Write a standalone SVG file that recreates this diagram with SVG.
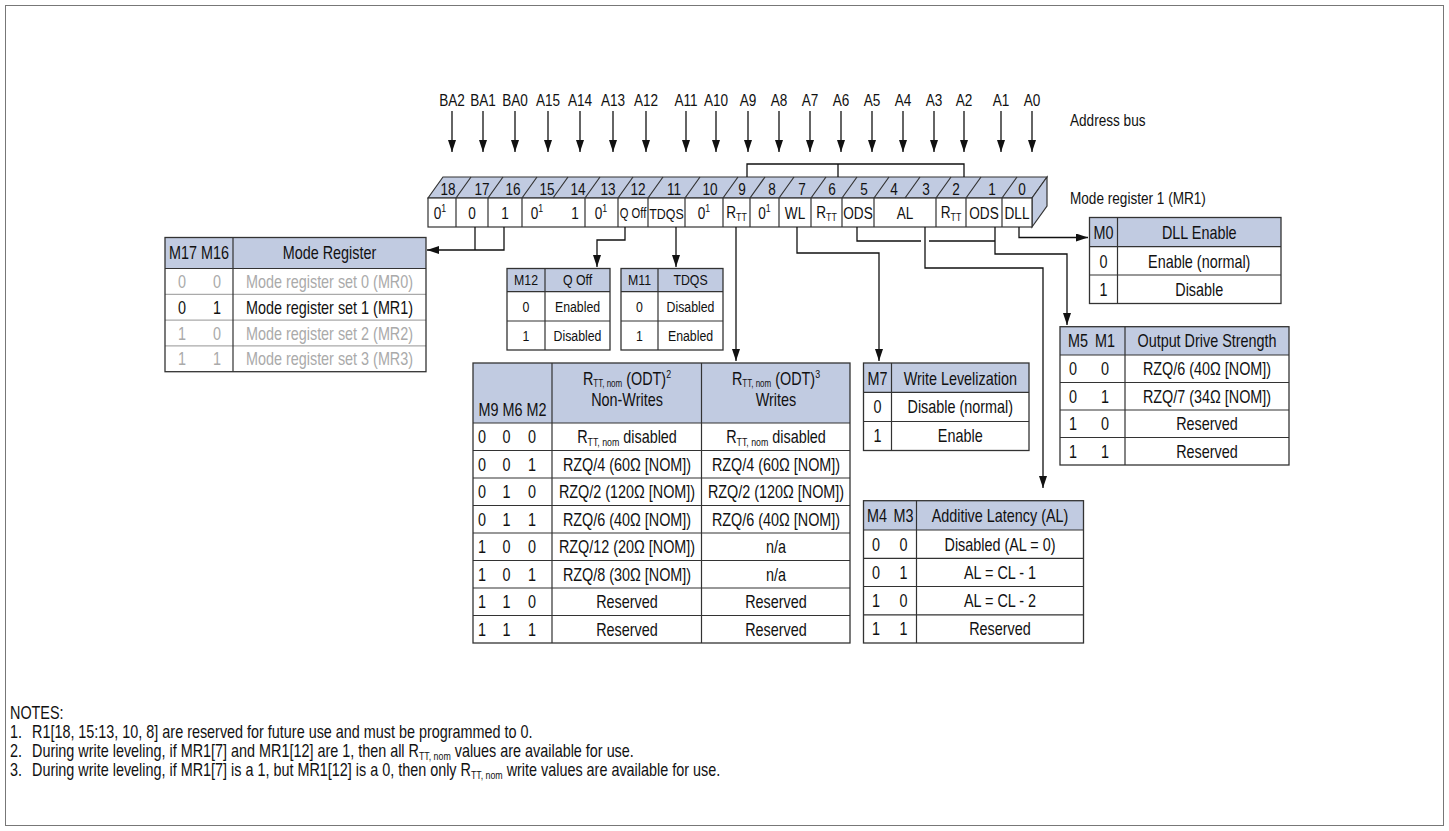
<svg xmlns="http://www.w3.org/2000/svg" width="1449" height="831" viewBox="0 0 1449 831">
<defs>
<style>
text{font-family:"Liberation Sans",Arial,Helvetica,sans-serif;fill:#111}
.a{font-size:17px}
.t{font-size:18px}
.s{font-size:14.5px}
.m{text-anchor:middle}
.g{fill:#aaa}
.sb{font-size:11px}
.sx{font-size:10px}
.hd{fill:#c1cbe1}
.bx{fill:none;stroke:#333;stroke-width:1.3}
.ln{fill:none;stroke:#333;stroke-width:1.2}
.lg{fill:none;stroke:#aaa;stroke-width:1.2}
.cn path{fill:none;stroke:#111;stroke-width:1.3}
</style>
<marker id="ah" markerUnits="userSpaceOnUse" markerWidth="12" markerHeight="8" refX="12" refY="4" orient="auto"><path d="M0,0L12,4L0,8z" fill="#111"/></marker>
</defs>
<rect x="0" y="0" width="1449" height="831" fill="#fff"/>
<rect x="5.5" y="5.5" width="1438" height="820" fill="none" stroke="#777" stroke-width="1"/>

<g id="address-bus">
<text class="a m" transform="translate(452,106)scale(.8,1)">BA2</text>
<text class="a m" transform="translate(483,106)scale(.8,1)">BA1</text>
<text class="a m" transform="translate(515,106)scale(.8,1)">BA0</text>
<text class="a m" transform="translate(548,106)scale(.8,1)">A15</text>
<text class="a m" transform="translate(580,106)scale(.8,1)">A14</text>
<text class="a m" transform="translate(613,106)scale(.8,1)">A13</text>
<text class="a m" transform="translate(646,106)scale(.8,1)">A12</text>
<text class="a m" transform="translate(686,106)scale(.8,1)">A11</text>
<text class="a m" transform="translate(716,106)scale(.8,1)">A10</text>
<text class="a m" transform="translate(748,106)scale(.8,1)">A9</text>
<text class="a m" transform="translate(779,106)scale(.8,1)">A8</text>
<text class="a m" transform="translate(810,106)scale(.8,1)">A7</text>
<text class="a m" transform="translate(841,106)scale(.8,1)">A6</text>
<text class="a m" transform="translate(872,106)scale(.8,1)">A5</text>
<text class="a m" transform="translate(903,106)scale(.8,1)">A4</text>
<text class="a m" transform="translate(934,106)scale(.8,1)">A3</text>
<text class="a m" transform="translate(964,106)scale(.8,1)">A2</text>
<text class="a m" transform="translate(1001,106)scale(.8,1)">A1</text>
<text class="a m" transform="translate(1032,106)scale(.8,1)">A0</text>
<text class="a" transform="translate(1070,126)scale(.8,1)">Address bus</text>
</g>

<g id="mr1-register">
<polygon class="hd" points="428,198 443,177 1047,177 1032,198" stroke="#333" stroke-width="1.2"/>
<polygon class="hd" points="1032,198 1047,177 1047,206 1032,227" stroke="#333" stroke-width="1.2"/>
<rect x="428" y="198" width="604" height="29" fill="#fff" stroke="#333" stroke-width="1.2"/>
<path class="ln" d="M456,198l15,-21M488,198l15,-21M522,198l15,-21M553,198l15,-21M585,198l15,-21M618,198l15,-21M648,198l15,-21M685,198l15,-21M723,198l15,-21M750,198l15,-21M779,198l15,-21M811,198l15,-21M842,198l15,-21M874,198l15,-21M905,198l15,-21M936,198l15,-21M966,198l15,-21M1002,198l15,-21"/>
<path class="ln" d="M456,198V227M488,198V227M522,198V227M585,198V227M618,198V227M648,198V227M685,198V227M723,198V227M750,198V227M779,198V227M811,198V227M842,198V227M874,198V227M936,198V227M966,198V227M1002,198V227"/>
<text class="a m" transform="translate(448,195)scale(.8,1)">18</text>
<text class="a m" transform="translate(482,195)scale(.8,1)">17</text>
<text class="a m" transform="translate(513,195)scale(.8,1)">16</text>
<text class="a m" transform="translate(547,195)scale(.8,1)">15</text>
<text class="a m" transform="translate(578,195)scale(.8,1)">14</text>
<text class="a m" transform="translate(608,195)scale(.8,1)">13</text>
<text class="a m" transform="translate(638,195)scale(.8,1)">12</text>
<text class="a m" transform="translate(674,195)scale(.8,1)">11</text>
<text class="a m" transform="translate(710,195)scale(.8,1)">10</text>
<text class="a m" transform="translate(742,195)scale(.8,1)">9</text>
<text class="a m" transform="translate(772,195)scale(.8,1)">8</text>
<text class="a m" transform="translate(802,195)scale(.8,1)">7</text>
<text class="a m" transform="translate(832,195)scale(.8,1)">6</text>
<text class="a m" transform="translate(864,195)scale(.8,1)">5</text>
<text class="a m" transform="translate(894,195)scale(.8,1)">4</text>
<text class="a m" transform="translate(926,195)scale(.8,1)">3</text>
<text class="a m" transform="translate(956,195)scale(.8,1)">2</text>
<text class="a m" transform="translate(992,195)scale(.8,1)">1</text>
<text class="a m" transform="translate(1022,195)scale(.8,1)">0</text>
<text class="a m" transform="translate(440,219)scale(.8,1)">0<tspan class="sb" dy="-7">1</tspan></text>
<text class="a m" transform="translate(472,219)scale(.8,1)">0</text>
<text class="a m" transform="translate(505,219)scale(.8,1)">1</text>
<text class="a m" transform="translate(537,219)scale(.8,1)">0<tspan class="sb" dy="-7">1</tspan></text>
<text class="a m" transform="translate(575,219)scale(.8,1)">1</text>
<text class="a m" transform="translate(601,219)scale(.8,1)">0<tspan class="sb" dy="-7">1</tspan></text>
<text class="a m" style="font-size:14px" transform="translate(633,218)scale(.8,1)">Q Off</text>
<text class="a m" style="font-size:15.5px" transform="translate(666.5,219)scale(.8,1)">TDQS</text>
<text class="a m" transform="translate(704,219)scale(.8,1)">0<tspan class="sb" dy="-7">1</tspan></text>
<text class="a m" transform="translate(736.5,218)scale(.8,1)">R<tspan class="sb" dy="3">TT</tspan></text>
<text class="a m" transform="translate(764.5,219)scale(.8,1)">0<tspan class="sb" dy="-7">1</tspan></text>
<text class="a m" transform="translate(795,219)scale(.8,1)">WL</text>
<text class="a m" transform="translate(826.5,218)scale(.8,1)">R<tspan class="sb" dy="3">TT</tspan></text>
<text class="a m" transform="translate(858,219)scale(.8,1)">ODS</text>
<text class="a m" transform="translate(905,219)scale(.8,1)">AL</text>
<text class="a m" transform="translate(951,218)scale(.8,1)">R<tspan class="sb" dy="3">TT</tspan></text>
<text class="a m" transform="translate(984,219)scale(.8,1)">ODS</text>
<text class="a m" transform="translate(1017,219)scale(.8,1)">DLL</text>
<text class="a" transform="translate(1070,204)scale(.8,1)">Mode register 1 (MR1)</text>
</g>

<g id="connectors" class="cn">
<path d="M452,111V152" marker-end="url(#ah)"/>
<path d="M483,111V152" marker-end="url(#ah)"/>
<path d="M515,111V152" marker-end="url(#ah)"/>
<path d="M548,111V152" marker-end="url(#ah)"/>
<path d="M580,111V152" marker-end="url(#ah)"/>
<path d="M613,111V152" marker-end="url(#ah)"/>
<path d="M646,111V152" marker-end="url(#ah)"/>
<path d="M686,111V152" marker-end="url(#ah)"/>
<path d="M716,111V152" marker-end="url(#ah)"/>
<path d="M748,111V152" marker-end="url(#ah)"/>
<path d="M779,111V152" marker-end="url(#ah)"/>
<path d="M810,111V152" marker-end="url(#ah)"/>
<path d="M841,111V152" marker-end="url(#ah)"/>
<path d="M872,111V152" marker-end="url(#ah)"/>
<path d="M903,111V152" marker-end="url(#ah)"/>
<path d="M934,111V152" marker-end="url(#ah)"/>
<path d="M964,111V152" marker-end="url(#ah)"/>
<path d="M1001,111V152" marker-end="url(#ah)"/>
<path d="M1032,111V152" marker-end="url(#ah)"/>
<path d="M747,177V164H964V177M838,164V177"/>
<path d="M475,227V250"/>
<path d="M504,227V250H427" marker-end="url(#ah)"/>
<path d="M625,227V240H597V267" marker-end="url(#ah)"/>
<path d="M676,227V267" marker-end="url(#ah)"/>
<path d="M736,227V361" marker-end="url(#ah)"/>
<path d="M797,227V253H879V361" marker-end="url(#ah)"/>
<path d="M857,227V241H921M929,241H995"/>
<path d="M995,227V254H1067V325" marker-end="url(#ah)"/>
<path d="M925,227V268H1043V488" marker-end="url(#ah)"/>
<path d="M1019,227V237.5H1088" marker-end="url(#ah)"/>
</g>

<g id="mode-register-table">
<rect class="hd" x="165" y="237.5" width="261" height="31"/>
<path class="lg" d="M165,294.3H426M165,320.1H426M165,345.9H426"/>
<path class="ln" d="M165,268.5H426M233,237.5V371.7"/>
<rect class="bx" x="165" y="237.5" width="261" height="134.2"/>
<text class="t m" transform="translate(199,259)scale(.8,1)">M17 M16</text>
<text class="t m" transform="translate(329.5,259)scale(.8,1)">Mode Register</text>
<text class="t m g" transform="translate(182,288)scale(.8,1)">0</text>
<text class="t m g" transform="translate(217,288)scale(.8,1)">0</text>
<text class="t m g" transform="translate(329.5,288)scale(.8,1)">Mode register set 0 (MR0)</text>
<text class="t m" transform="translate(182,313.5)scale(.8,1)">0</text>
<text class="t m" transform="translate(217,313.5)scale(.8,1)">1</text>
<text class="t m" transform="translate(329.5,313.5)scale(.8,1)">Mode register set 1 (MR1)</text>
<text class="t m g" transform="translate(182,339.5)scale(.8,1)">1</text>
<text class="t m g" transform="translate(217,339.5)scale(.8,1)">0</text>
<text class="t m g" transform="translate(329.5,339.5)scale(.8,1)">Mode register set 2 (MR2)</text>
<text class="t m g" transform="translate(182,365)scale(.8,1)">1</text>
<text class="t m g" transform="translate(217,365)scale(.8,1)">1</text>
<text class="t m g" transform="translate(329.5,365)scale(.8,1)">Mode register set 3 (MR3)</text>
</g>

<g id="q-off-table">
<rect class="hd" x="507" y="268.5" width="103" height="23.2"/>
<path class="ln" d="M545,268.5V350M507,291.7H610M507,321H610"/>
<rect class="bx" x="507" y="268.5" width="103" height="81.5"/>
<text class="s m" transform="translate(526,285.3)scale(.85,1)">M12</text>
<text class="s m" transform="translate(577.5,285.3)scale(.85,1)">Q Off</text>
<text class="s m" transform="translate(526,311.5)scale(.85,1)">0</text>
<text class="s m" transform="translate(577.5,311.5)scale(.85,1)">Enabled</text>
<text class="s m" transform="translate(526,340.5)scale(.85,1)">1</text>
<text class="s m" transform="translate(577.5,340.5)scale(.85,1)">Disabled</text>
</g>

<g id="tdqs-table">
<rect class="hd" x="621" y="268.5" width="102" height="23.2"/>
<path class="ln" d="M658,268.5V350M621,291.7H723M621,321H723"/>
<rect class="bx" x="621" y="268.5" width="102" height="81.5"/>
<text class="s m" transform="translate(639.5,285.3)scale(.85,1)">M11</text>
<text class="s m" transform="translate(690.5,285.3)scale(.85,1)">TDQS</text>
<text class="s m" transform="translate(639.5,311.5)scale(.85,1)">0</text>
<text class="s m" transform="translate(690.5,311.5)scale(.85,1)">Disabled</text>
<text class="s m" transform="translate(639.5,340.5)scale(.85,1)">1</text>
<text class="s m" transform="translate(690.5,340.5)scale(.85,1)">Enabled</text>
</g>

<g id="rtt-table">
<rect class="hd" x="473" y="363" width="377" height="60"/>
<path class="ln" d="M552,363V643M701.5,363V643M473,423H850M473,450.5H850M473,478H850M473,505.5H850M473,533H850M473,560.5H850M473,588H850M473,615.5H850"/>
<rect class="bx" x="473" y="363" width="377" height="280"/>
<text class="t m" transform="translate(512.5,416)scale(.8,1)">M9 M6 M2</text>
<text class="t m" transform="translate(627,384.5)scale(.8,1)">R<tspan class="sx" dy="2.5">TT, nom</tspan><tspan dy="-2.5"> (ODT)</tspan><tspan class="sb" dy="-7">2</tspan></text>
<text class="t m" transform="translate(627,406)scale(.8,1)">Non-Writes</text>
<text class="t m" transform="translate(776,384.5)scale(.8,1)">R<tspan class="sx" dy="2.5">TT, nom</tspan><tspan dy="-2.5"> (ODT)</tspan><tspan class="sb" dy="-7">3</tspan></text>
<text class="t m" transform="translate(776,406)scale(.8,1)">Writes</text>
<text class="t m" transform="translate(482,443)scale(.8,1)">0</text>
<text class="t m" transform="translate(506.5,443)scale(.8,1)">0</text>
<text class="t m" transform="translate(532,443)scale(.8,1)">0</text>
<text class="t m" transform="translate(627,443)scale(.8,1)">R<tspan class="sb" dy="3">TT, nom</tspan><tspan dy="-3"> disabled</tspan></text>
<text class="t m" transform="translate(776,443)scale(.8,1)">R<tspan class="sb" dy="3">TT, nom</tspan><tspan dy="-3"> disabled</tspan></text>
<text class="t m" transform="translate(482,470.5)scale(.8,1)">0</text>
<text class="t m" transform="translate(506.5,470.5)scale(.8,1)">0</text>
<text class="t m" transform="translate(532,470.5)scale(.8,1)">1</text>
<text class="t m" transform="translate(627,470.5)scale(.8,1)">RZQ/4 (60Ω [NOM])</text>
<text class="t m" transform="translate(776,470.5)scale(.8,1)">RZQ/4 (60Ω [NOM])</text>
<text class="t m" transform="translate(482,498)scale(.8,1)">0</text>
<text class="t m" transform="translate(506.5,498)scale(.8,1)">1</text>
<text class="t m" transform="translate(532,498)scale(.8,1)">0</text>
<text class="t m" transform="translate(627,498)scale(.8,1)">RZQ/2 (120Ω [NOM])</text>
<text class="t m" transform="translate(776,498)scale(.8,1)">RZQ/2 (120Ω [NOM])</text>
<text class="t m" transform="translate(482,525.5)scale(.8,1)">0</text>
<text class="t m" transform="translate(506.5,525.5)scale(.8,1)">1</text>
<text class="t m" transform="translate(532,525.5)scale(.8,1)">1</text>
<text class="t m" transform="translate(627,525.5)scale(.8,1)">RZQ/6 (40Ω [NOM])</text>
<text class="t m" transform="translate(776,525.5)scale(.8,1)">RZQ/6 (40Ω [NOM])</text>
<text class="t m" transform="translate(482,553)scale(.8,1)">1</text>
<text class="t m" transform="translate(506.5,553)scale(.8,1)">0</text>
<text class="t m" transform="translate(532,553)scale(.8,1)">0</text>
<text class="t m" transform="translate(627,553)scale(.8,1)">RZQ/12 (20Ω [NOM])</text>
<text class="t m" transform="translate(776,553)scale(.8,1)">n/a</text>
<text class="t m" transform="translate(482,580.5)scale(.8,1)">1</text>
<text class="t m" transform="translate(506.5,580.5)scale(.8,1)">0</text>
<text class="t m" transform="translate(532,580.5)scale(.8,1)">1</text>
<text class="t m" transform="translate(627,580.5)scale(.8,1)">RZQ/8 (30Ω [NOM])</text>
<text class="t m" transform="translate(776,580.5)scale(.8,1)">n/a</text>
<text class="t m" transform="translate(482,608)scale(.8,1)">1</text>
<text class="t m" transform="translate(506.5,608)scale(.8,1)">1</text>
<text class="t m" transform="translate(532,608)scale(.8,1)">0</text>
<text class="t m" transform="translate(627,608)scale(.8,1)">Reserved</text>
<text class="t m" transform="translate(776,608)scale(.8,1)">Reserved</text>
<text class="t m" transform="translate(482,635.5)scale(.8,1)">1</text>
<text class="t m" transform="translate(506.5,635.5)scale(.8,1)">1</text>
<text class="t m" transform="translate(532,635.5)scale(.8,1)">1</text>
<text class="t m" transform="translate(627,635.5)scale(.8,1)">Reserved</text>
<text class="t m" transform="translate(776,635.5)scale(.8,1)">Reserved</text>
</g>

<g id="write-levelization-table">
<rect class="hd" x="863.5" y="363" width="165.5" height="29.3"/>
<path class="ln" d="M891.5,363V450.5M863.5,392.3H1029M863.5,421.5H1029"/>
<rect class="bx" x="863.5" y="363" width="165.5" height="87.5"/>
<text class="t m" transform="translate(877.5,384.5)scale(.8,1)">M7</text>
<text class="t m" transform="translate(960.25,384.5)scale(.8,1)">Write Levelization</text>
<text class="t m" transform="translate(877.5,413)scale(.8,1)">0</text>
<text class="t m" transform="translate(960.25,413)scale(.8,1)">Disable (normal)</text>
<text class="t m" transform="translate(877.5,442)scale(.8,1)">1</text>
<text class="t m" transform="translate(960.25,442)scale(.8,1)">Enable</text>
</g>

<g id="dll-enable-table">
<rect class="hd" x="1089.5" y="217.5" width="191.5" height="29.2"/>
<path class="ln" d="M1117.5,217.5V303.5M1089.5,246.7H1281M1089.5,275H1281"/>
<rect class="bx" x="1089.5" y="217.5" width="191.5" height="86"/>
<text class="t m" transform="translate(1103.5,238.5)scale(.8,1)">M0</text>
<text class="t m" transform="translate(1199.25,238.5)scale(.8,1)">DLL Enable</text>
<text class="t m" transform="translate(1103.5,267.5)scale(.8,1)">0</text>
<text class="t m" transform="translate(1199.25,267.5)scale(.8,1)">Enable (normal)</text>
<text class="t m" transform="translate(1103.5,295.5)scale(.8,1)">1</text>
<text class="t m" transform="translate(1199.25,295.5)scale(.8,1)">Disable</text>
</g>

<g id="output-drive-strength-table">
<rect class="hd" x="1060" y="326.7" width="229" height="28.3"/>
<path class="ln" d="M1125,326.7V465M1060,355H1289M1060,382.5H1289M1060,410H1289M1060,437.5H1289"/>
<rect class="bx" x="1060" y="326.7" width="229" height="138.3"/>
<text class="t m" transform="translate(1078,347)scale(.8,1)">M5</text>
<text class="t m" transform="translate(1105,347)scale(.8,1)">M1</text>
<text class="t m" transform="translate(1207,347)scale(.8,1)">Output Drive Strength</text>
<text class="t m" transform="translate(1073,375)scale(.8,1)">0</text>
<text class="t m" transform="translate(1105,375)scale(.8,1)">0</text>
<text class="t m" transform="translate(1207,375)scale(.8,1)">RZQ/6 (40Ω [NOM])</text>
<text class="t m" transform="translate(1073,402.5)scale(.8,1)">0</text>
<text class="t m" transform="translate(1105,402.5)scale(.8,1)">1</text>
<text class="t m" transform="translate(1207,402.5)scale(.8,1)">RZQ/7 (34Ω [NOM])</text>
<text class="t m" transform="translate(1073,430)scale(.8,1)">1</text>
<text class="t m" transform="translate(1105,430)scale(.8,1)">0</text>
<text class="t m" transform="translate(1207,430)scale(.8,1)">Reserved</text>
<text class="t m" transform="translate(1073,457.5)scale(.8,1)">1</text>
<text class="t m" transform="translate(1105,457.5)scale(.8,1)">1</text>
<text class="t m" transform="translate(1207,457.5)scale(.8,1)">Reserved</text>
</g>

<g id="additive-latency-table">
<rect class="hd" x="863.5" y="500.7" width="220" height="29.3"/>
<path class="ln" d="M916.5,500.7V643M863.5,530H1083.5M863.5,558.3H1083.5M863.5,586.5H1083.5M863.5,614.8H1083.5"/>
<rect class="bx" x="863.5" y="500.7" width="220" height="142.3"/>
<text class="t m" transform="translate(877,521.5)scale(.8,1)">M4</text>
<text class="t m" transform="translate(903.5,521.5)scale(.8,1)">M3</text>
<text class="t m" transform="translate(1000,521.5)scale(.8,1)">Additive Latency (AL)</text>
<text class="t m" transform="translate(876,550.5)scale(.8,1)">0</text>
<text class="t m" transform="translate(903.5,550.5)scale(.8,1)">0</text>
<text class="t m" transform="translate(1000,550.5)scale(.8,1)">Disabled (AL = 0)</text>
<text class="t m" transform="translate(876,578.7)scale(.8,1)">0</text>
<text class="t m" transform="translate(903.5,578.7)scale(.8,1)">1</text>
<text class="t m" transform="translate(1000,578.7)scale(.8,1)">AL = CL - 1</text>
<text class="t m" transform="translate(876,607)scale(.8,1)">1</text>
<text class="t m" transform="translate(903.5,607)scale(.8,1)">0</text>
<text class="t m" transform="translate(1000,607)scale(.8,1)">AL = CL - 2</text>
<text class="t m" transform="translate(876,635.2)scale(.8,1)">1</text>
<text class="t m" transform="translate(903.5,635.2)scale(.8,1)">1</text>
<text class="t m" transform="translate(1000,635.2)scale(.8,1)">Reserved</text>
</g>

<g id="notes">
<text class="t" transform="translate(10,719)scale(.8,1)">NOTES:</text>
<text class="t" transform="translate(10,738)scale(.8,1)">1.</text>
<text class="t" transform="translate(32,738)scale(.8,1)">R1[18, 15:13, 10, 8] are reserved for future use and must be programmed to 0.</text>
<text class="t" transform="translate(10,757)scale(.8,1)">2.</text>
<text class="t" transform="translate(32,757)scale(.8,1)">During write leveling, if MR1[7] and MR1[12] are 1, then all R<tspan class="sb" dy="3">TT, nom</tspan><tspan dy="-3"> values are available for use.</tspan></text>
<text class="t" transform="translate(10,776)scale(.8,1)">3.</text>
<text class="t" transform="translate(32,776)scale(.8,1)">During write leveling, if MR1[7] is a 1, but MR1[12] is a 0, then only R<tspan class="sb" dy="3">TT, nom</tspan><tspan dy="-3"> write values are available for use.</tspan></text>
</g>
</svg>
